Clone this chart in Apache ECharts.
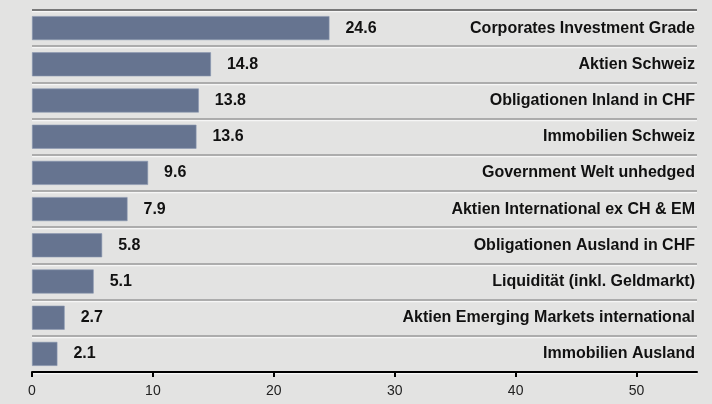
<!DOCTYPE html>
<html>
<head>
<meta charset="utf-8">
<script src="https://cdn.jsdelivr.net/npm/echarts@6/dist/echarts.min.js"></script>
<style>
  html, body { margin: 0; padding: 0; background: #e3e3e2; }
  #chart { width: 712px; height: 404px; }
</style>
</head>
<body>
<div id="chart"></div>
<script>
// Allocation per asset class, in percent
const categories = [
  'Corporates Investment Grade',
  'Aktien Schweiz',
  'Obligationen Inland in CHF',
  'Immobilien Schweiz',
  'Government Welt unhedged',
  'Aktien International ex CH & EM',
  'Obligationen Ausland in CHF',
  'Liquidität (inkl. Geldmarkt)',
  'Aktien Emerging Markets international',
  'Immobilien Ausland'
];
const shares = [24.6, 14.8, 13.8, 13.6, 9.6, 7.9, 5.8, 5.1, 2.7, 2.1];
const xTicks = [0, 10, 20, 30, 40, 50];

const chart = echarts.init(document.getElementById('chart'), null, { renderer: 'canvas' });

const FONT = '"Liberation Sans", Arial, Helvetica, sans-serif';

// separator colours: first boundary darker than the rest
const sepColors = categories.map(() => '#9a9a9a').concat(['#9a9a9a']);
sepColors[0] = '#555555';

chart.setOption({
  backgroundColor: '#e3e3e2',
  animation: false,
  grid: { left: 32, right: 15, top: 10, bottom: 32, containLabel: false, outerBoundsMode: 'none' },
  xAxis: {
    type: 'value',
    min: 0,
    max: 55,
    interval: 10,
    axisLine: { show: true, lineStyle: { color: '#000', width: 2 } },
    axisTick: { show: true, length: 5, customValues: xTicks, lineStyle: { color: '#000', width: 2 } },
    axisLabel: {
      customValues: xTicks,
      color: '#222', fontFamily: FONT, fontSize: 14, margin: 12
    },
    splitLine: { show: false }
  },
  yAxis: {
    type: 'category',
    data: categories,
    inverse: true,
    position: 'right',
    axisLine: { show: false },
    axisTick: { show: false },
    axisLabel: {
      inside: true,
      margin: 2,
      color: '#111',
      fontFamily: FONT,
      fontSize: 16,
      fontWeight: 'bold'
    },
    splitLine: {
      show: true,
      lineStyle: {
        color: sepColors,
        width: 1.5,
        shadowColor: '#f6f6f6',
        shadowOffsetY: 1.5,
        shadowBlur: 0
      }
    }
  },
  series: [{
    type: 'bar',
    data: shares,
    barWidth: 24,
    itemStyle: { color: '#667490', borderColor: '#8a97b0', borderWidth: 0.6 },
    label: {
      show: true,
      position: 'right',
      distance: 16,
      color: '#111',
      fontFamily: FONT,
      fontSize: 16,
      fontWeight: 'bold',
      formatter: p => p.value.toFixed(1)
    }
  }]
});
</script>
</body>
</html>
